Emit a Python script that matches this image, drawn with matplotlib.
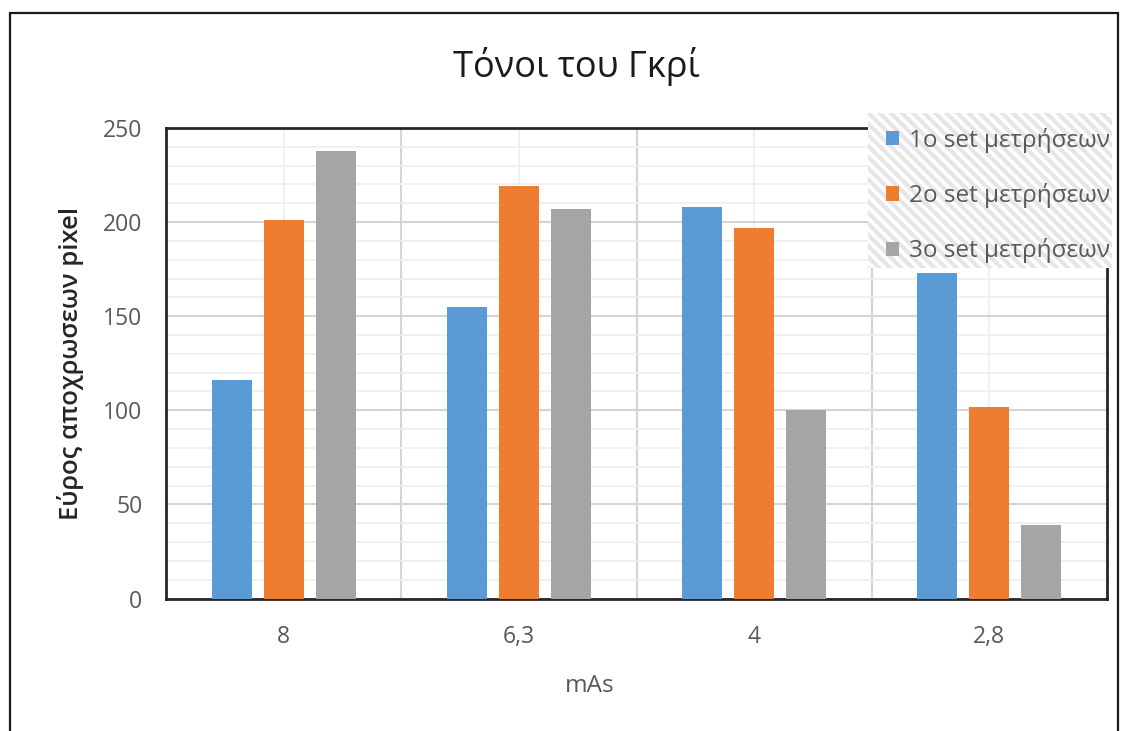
import numpy as np
import matplotlib
matplotlib.use("Agg")
import matplotlib.pyplot as plt
from matplotlib.patches import Rectangle
from matplotlib.ticker import MultipleLocator

plt.rcParams['font.family'] = ['Open Sans', 'DejaVu Sans']
plt.rcParams['hatch.linewidth'] = 3.0

# Data
categories = ['8', '6,3', '4', '2,8']
series_names = ['1ο set μετρήσεων', '2ο set μετρήσεων', '3ο set μετρήσεων']
set1 = [116, 155, 208, 173]
set2 = [201, 219, 197, 102]
set3 = [238, 207, 100, 39]

colors = ['#5B9BD5', '#ED7D31', '#A5A5A5']
text_grey = '#595959'

fig = plt.figure(figsize=(11.43, 7.31), dpi=100)

# Outer chart frame
fig.patches.append(Rectangle((10 / 1143, -0.05), 1108 / 1143, 1.05 - 13 / 731,
                             transform=fig.transFigure, fill=False,
                             edgecolor='#1a1a1a', linewidth=1.6, zorder=0))

ax = fig.add_axes([166 / 1143, 1 - 598.5 / 731, (1107 - 166) / 1143, (598.5 - 128) / 731])

x = np.arange(len(categories))
width = 0.17
step = 0.221
for i, (vals, name, c) in enumerate(zip([set1, set2, set3], series_names, colors)):
    ax.bar(x + (i - 1) * step, vals, width, color=c, label=name, zorder=3)

ax.set_xlim(-0.5, len(categories) - 0.5)
ax.set_ylim(0, 250)

# Horizontal grid
ax.yaxis.set_major_locator(MultipleLocator(50))
ax.yaxis.set_minor_locator(MultipleLocator(10))
ax.grid(axis='y', which='major', color='#d4d4d4', linewidth=1.5, zorder=0)
ax.grid(axis='y', which='minor', color='#efefef', linewidth=1.3, zorder=0)

# Vertical grid: category boundaries and centres
for b in np.arange(0.5, len(categories) - 0.5, 1.0):
    ax.axvline(b, color='#d4d4d4', linewidth=1.5, zorder=0)
for cpos in x:
    ax.axvline(cpos, color='#efefef', linewidth=1.3, zorder=0)

ax.set_xticks(x)
ax.set_xticklabels(categories)
ax.tick_params(axis='both', which='both', length=0, labelsize=16.5, labelcolor=text_grey)
ax.tick_params(axis='x', pad=19)
ax.tick_params(axis='y', pad=17)

for s in ax.spines.values():
    s.set_color('#262626')
    s.set_linewidth(2)

ax.set_xlabel('mAs', fontsize=17.5, color=text_grey, labelpad=18)
ax.xaxis.label.set_x(0.4506)
ax.set_ylabel('Εύρος αποχρωσεων pixel', fontsize=18.5, color='#262626',
              fontweight='semibold', labelpad=14)

fig.text(576 / 1143, 1 - 66 / 731, 'Τόνοι του Γκρί', ha='center', va='center',
         fontsize=26, color='#1a1a1a')

# Legend with hatched background
bg = Rectangle((868 / 1143, 1 - 268 / 731), (1112 - 868) / 1143, (268 - 113) / 731,
               transform=fig.transFigure, facecolor='white', edgecolor='#e6e6e6',
               hatch='\\\\\\', linewidth=0, zorder=8, clip_on=False)
ax.add_patch(bg)

leg = ax.legend(loc='upper left', bbox_to_anchor=(876 / 1143, 1 - 118 / 731),
                bbox_transform=fig.transFigure, frameon=False, fontsize=17.5,
                labelcolor=text_grey, handlelength=0.55, handleheight=0.55,
                handletextpad=0.4, labelspacing=1.25, borderaxespad=0, borderpad=0.4)
leg.set_zorder(10)

fig.savefig('out.png', dpi=100)
